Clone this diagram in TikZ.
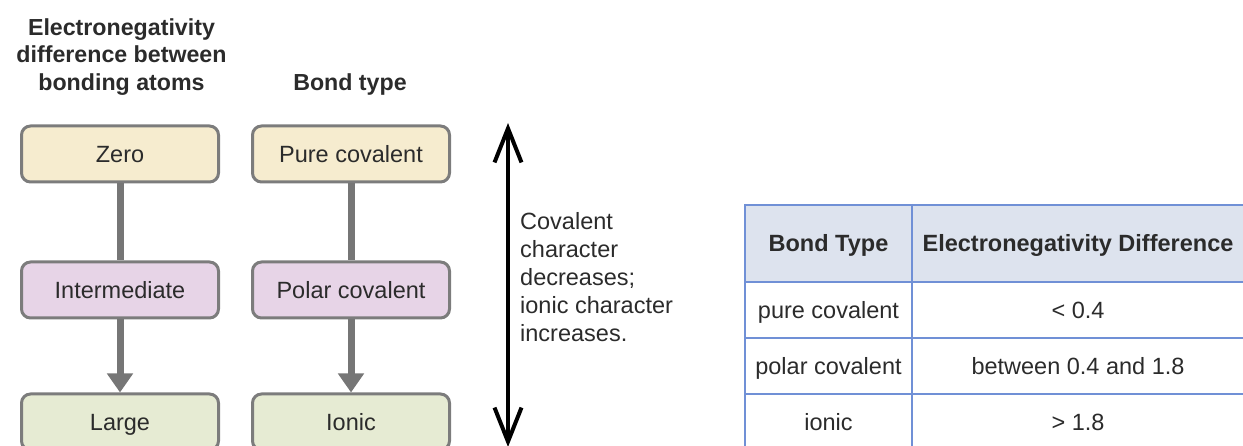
\documentclass[tikz,border=0pt]{standalone}
\usepackage{fontspec}
\setmainfont{Liberation Sans}
\usetikzlibrary{arrows.meta}
\definecolor{txt}{HTML}{2B2B2B}
\definecolor{boxline}{HTML}{7C7C7C}
\definecolor{yel}{HTML}{F6ECCF}
\definecolor{lil}{HTML}{E7D4E7}
\definecolor{grn}{HTML}{E6EBD3}
\definecolor{tline}{HTML}{7090D6}
\definecolor{thead}{HTML}{DDE3EE}
\begin{document}
\begin{tikzpicture}[x=1pt,y=-1pt,
    every node/.style={text=txt,font=\fontsize{23.5}{28}\selectfont},
    cell/.style={text height=17pt,text depth=0pt},
    box/.style={cell,draw=boxline,line width=3pt,rounded corners=9pt,
      minimum width=197pt,minimum height=56pt},
    head/.style={font=\fontsize{23.2}{27.5}\selectfont\bfseries,align=center}]
      \useasboundingbox (0,0) rectangle (1243,446);
      \clip (0,0) rectangle (1243,446);
      \draw
        (121.5,15) node[head,anchor=north] (t0){Electronegativity\\difference between\\bonding atoms}
        (350,91) node[head,anchor=base] (t1){Bond type}
        (120,154) node[box,fill=yel] (z){Zero}
        (120,290) node[box,fill=lil] (m){Intermediate}
        (120,422) node[box,fill=grn] (l){Large}
        (351,154) node[box,fill=yel] (pc){Pure covalent}
        (351,290) node[box,fill=lil] (pl){Polar covalent}
        (351,422) node[box,fill=grn] (io){Ionic};
      \begin{scope}[draw=boxline!95!black,line width=7pt]
        \draw (z) to (m);
        \draw (pc) to (pl);
        \draw[-{Triangle[length=19pt,width=25pt]}] (m) to (l);
        \draw[-{Triangle[length=19pt,width=25pt]}] (pl) to (io);
      \end{scope}
      % trend arrow
      \coordinate (up) at (508,123);
      \coordinate (dn) at (508,447);
      \draw[line width=4pt,{Straight Barb[length=34pt,width=27pt]}-{Straight Barb[length=34pt,width=27pt]}] (up) to (dn);
      \node[anchor=north west,inner sep=0pt,align=left] (c) at (520,212.5)
        {Covalent\\character\\decreases;\\ionic character\\increases.};
      % table
      \fill[thead] (745,205) rectangle (1245,282);
      \begin{scope}[draw=tline,line width=2pt]
        \draw (745,205) -- (1245,205);
        \draw (745,282) -- (1245,282);
        \draw (745,338) -- (1245,338);
        \draw (745,394) -- (1245,394);
        \draw (745,204) -- (745,450);
        \draw (912,204) -- (912,450);
        \draw (1245,204) -- (1245,450);
      \end{scope}
      \draw
        (828.5,243.5) node[cell,font=\fontsize{23.5}{28}\selectfont\bfseries] (h0){Bond Type}
        (1078,243.5) node[cell,font=\fontsize{23.5}{28}\selectfont\bfseries] (h1){Electronegativity Difference}
        (828.5,310) node[cell] (r0){pure covalent}
        (1078,310) node[cell] (v0){< 0.4}
        (828.5,366) node[cell] (r1){polar covalent}
        (1078,366) node[cell] (v1){between 0.4 and 1.8}
        (828.5,422) node[cell] (r2){ionic}
        (1078,422) node[cell] (v2){> 1.8};
    \end{tikzpicture}
\end{document}
